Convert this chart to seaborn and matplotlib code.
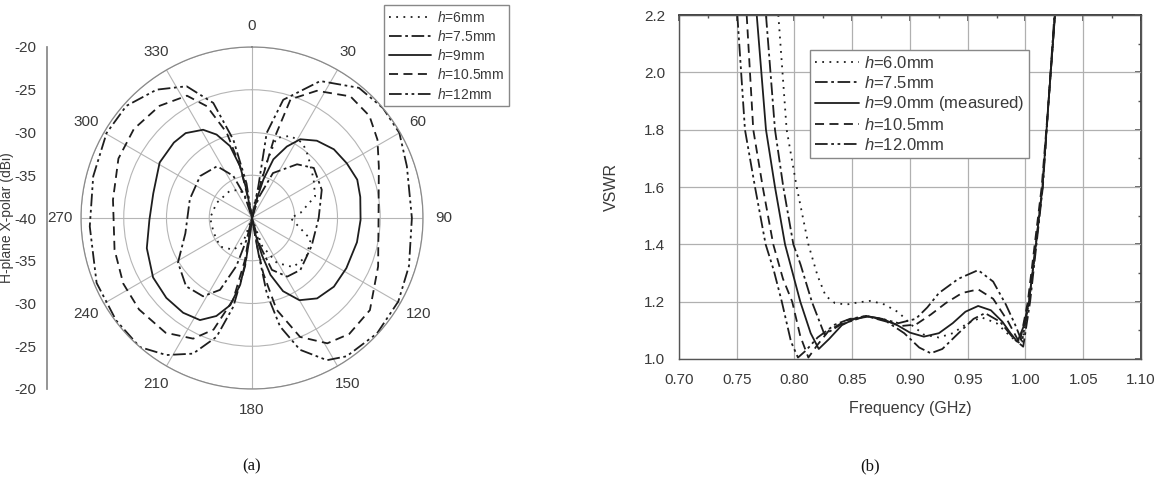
import numpy as np
import matplotlib
matplotlib.use("Agg")
import matplotlib.pyplot as plt
from matplotlib.ticker import MultipleLocator, FixedLocator
import seaborn as sns

sns.set_theme(style="white")
plt.rcParams['font.family'] = ['Liberation Sans', 'DejaVu Sans']
plt.rcParams['mathtext.fontset'] = 'custom'
plt.rcParams['mathtext.it'] = 'Liberation Sans:italic'
plt.rcParams['mathtext.rm'] = 'Liberation Sans'

# ---- (a) H-plane X-polar pattern, angle (deg, clockwise from top) / level (dBi)
ang_6 = [0, 10, 15, 17, 25, 34, 42, 58, 71, 84, 90, 100, 110, 125, 140, 151, 160, 168,
         192, 200, 210, 228, 249, 270, 293, 320, 337, 350, 360]
db_6 = [-40, -38, -33, -30.2, -29.4, -29.4, -30.2, -31.5, -32.2, -34.3, -35.5, -34.5, -32.7,
        -32.2, -32.5, -34, -36.5, -40, -40, -37, -35.7, -35, -35.2, -35.1, -35.5, -35.9,
        -36.4, -38.5, -40]

ang_75 = [0, 12, 18, 25, 40, 51, 68, 90, 115, 137, 149, 159, 164, 170,
          190, 194, 198, 204, 212, 224, 239, 257, 287, 309, 326, 336, 342, 350, 360]
db_75 = [-40, -40, -37.5, -34.2, -31.8, -30.7, -31.2, -32.2, -32.3, -31.7, -32.0, -33.5,
         -36.6, -40, -40, -37.4, -34.1, -30.8, -29.2, -28.9, -29.9, -32.0, -32.4, -32.2,
         -32.7, -34.6, -37.3, -40, -40]

ang_9 = [0, 8, 14, 16.5, 20, 26, 31.5, 40, 50, 60, 70, 79, 91, 103, 118, 130, 141, 150,
         157, 162, 165, 168, 172, 180, 186, 188, 190, 194, 200, 207, 216, 227, 239, 254,
         269, 284, 301, 314, 322, 331, 337, 343, 347, 349, 352, 360]
db_9 = [-40, -40, -37.8, -35.3, -32.7, -30.7, -29.2, -28.2, -27.5, -27.2, -26.9, -27.1,
        -27.3, -27.4, -27.5, -27.5, -27.9, -28.9, -30.7, -33.0, -35.5, -38.0, -40, -40,
        -38.4, -35.3, -32.1, -29.5, -27.8, -26.6, -26.3, -26.3, -26.5, -27.2, -28.0,
        -28.1, -27.4, -27.3, -27.4, -28.2, -29.4, -31.2, -33.8, -36.6, -40, -40]

ang_105 = [0, 10, 14, 15.5, 18, 27, 39, 49, 58, 68, 90, 111, 128, 140, 149, 158, 165,
           168.5, 170, 175, 180, 185, 189.5, 193, 199, 206, 217, 231, 243, 257, 277.5,
           294, 307, 320.5, 332, 338, 343.5, 347, 349, 353, 360]
db_105 = [-40, -40, -36.2, -30.5, -25.4, -23.3, -21.7, -21.8, -22.7, -24.0, -25.2, -24.2,
          -22.5, -22.3, -22.9, -25.0, -28.9, -33.4, -37.0, -40, -40, -40, -35.0, -30.2,
          -26.2, -24.3, -23.2, -23.0, -23.1, -23.5, -23.6, -22.9, -22.7, -23.0, -23.8,
          -25.9, -29.6, -33.8, -37.8, -40, -40]

ang_12 = [0, 11.3, 9.8, 14.8, 26.5, 39.4, 50, 60, 71.5, 90, 107, 119.7, 132.7, 145.6,
          152.2, 160, 165.5, 168.9, 169.7, 172, 180, 188.2, 191.9, 196.6, 203.5, 212, 221,
          233, 247.3, 267, 284.7, 300.3, 311.7, 323.4, 333.6, 341.4, 346.6, 351, 360]
db_12 = [-40, -36.2, -29.9, -25.7, -22.1, -20.3, -20.0, -20.1, -20.9, -21.3, -20.8, -20.3,
         -20.1, -20.4, -21.2, -23.6, -26.9, -31.0, -35.8, -40, -40, -34.3, -29.4, -25.5,
         -22.7, -21.1, -20.0, -20.1, -20.3, -21.0, -20.8, -20.3, -20.3, -21.3, -22.8,
         -25.8, -30.6, -35.9, -40]

# ---- (b) VSWR vs frequency (GHz)
f_60 = [0.786, 0.7932, 0.8019, 0.812, 0.820, 0.827, 0.835, 0.845, 0.856, 0.866, 0.878,
        0.890, 0.901, 0.912, 0.925, 0.937, 0.950, 0.962, 0.975, 0.988, 0.997, 1.003,
        1.009, 1.0147, 1.020, 1.0255]
v_60 = [2.2, 1.8, 1.6, 1.4, 1.29, 1.22, 1.195, 1.19, 1.198, 1.203, 1.19, 1.163, 1.12,
        1.085, 1.075, 1.09, 1.125, 1.145, 1.125, 1.075, 1.05, 1.2, 1.4, 1.6, 1.9, 2.2]

f_75 = [0.7753, 0.7831, 0.7903, 0.799, 0.8052, 0.815, 0.826, 0.84, 0.862, 0.88, 0.895,
        0.908, 0.918, 0.928, 0.942, 0.955, 0.965, 0.978, 0.990, 0.998, 1.004, 1.0095,
        1.015, 1.020, 1.025]
v_75 = [2.2, 1.8, 1.6, 1.4, 1.33, 1.2, 1.085, 1.12, 1.15, 1.13, 1.09, 1.04, 1.02, 1.035,
        1.09, 1.14, 1.16, 1.13, 1.07, 1.043, 1.2, 1.4, 1.6, 1.9, 2.2]

f_90 = [0.7673, 0.7753, 0.7831, 0.7918, 0.805, 0.814, 0.821, 0.83, 0.841, 0.852, 0.864,
        0.876, 0.889, 0.90, 0.912, 0.925, 0.937, 0.948, 0.959, 0.970, 0.980, 0.987,
        0.993, 0.998, 1.003, 1.009, 1.0147, 1.020, 1.0255]
v_90 = [2.2, 1.8, 1.6, 1.4, 1.2, 1.09, 1.035, 1.07, 1.118, 1.14, 1.148, 1.14, 1.118,
        1.092, 1.078, 1.09, 1.125, 1.165, 1.185, 1.17, 1.13, 1.09, 1.06, 1.11, 1.2, 1.4,
        1.6, 1.9, 2.2]

f_105 = [0.7586, 0.7643, 0.7725, 0.7816, 0.790, 0.798, 0.805, 0.812, 0.82, 0.83, 0.845,
         0.862, 0.878, 0.892, 0.905, 0.918, 0.931, 0.945, 0.959, 0.972, 0.985, 0.995,
         1.002, 1.008, 1.014, 1.020, 1.0255]
v_105 = [2.2, 1.8, 1.6, 1.4, 1.28, 1.2, 1.08, 1.005, 1.05, 1.10, 1.135, 1.15, 1.135,
         1.115, 1.12, 1.155, 1.195, 1.23, 1.243, 1.21, 1.13, 1.055, 1.2, 1.4, 1.6, 1.9, 2.2]

f_120 = [0.7505, 0.7571, 0.7658, 0.775, 0.782, 0.789, 0.797, 0.803, 0.81, 0.82, 0.835,
         0.848, 0.862, 0.876, 0.89, 0.905, 0.915, 0.925, 0.942, 0.959, 0.972, 0.983,
         0.991, 0.997, 1.003, 1.009, 1.0147, 1.020, 1.0255]
v_120 = [2.2, 1.8, 1.6, 1.4, 1.31, 1.2, 1.06, 1.005, 1.03, 1.075, 1.12, 1.14, 1.15, 1.14,
         1.125, 1.14, 1.18, 1.23, 1.28, 1.31, 1.27, 1.19, 1.12, 1.06, 1.2, 1.4, 1.6, 1.9, 2.2]

labels_a = ['$h$=6mm', '$h$=7.5mm', '$h$=9mm', '$h$=10.5mm', '$h$=12mm']
labels_b = ['$h$=6.0mm', '$h$=7.5mm', '$h$=9.0mm (measured)', '$h$=10.5mm', '$h$=12.0mm']

styles = [(0, (1, 3)), (0, (7, 2, 1.5, 2)), '-', (0, (5, 3)), (0, (7, 2, 1.5, 2, 1.5, 2))]
ink = '#1e1e1e'
txt = '#3a3a3a'
W, H = 1168, 497

fig = plt.figure(figsize=(W / 100, H / 100), dpi=100)

# ---------------- (a) polar
pax = fig.add_axes([81 / W, 108 / H, 342 / W, 342 / H], projection='polar')
polar_sets = [(ang_6, db_6), (ang_75, db_75), (ang_9, db_9), (ang_105, db_105), (ang_12, db_12)]
for (a, d), ls, lab in zip(polar_sets, styles, labels_a):
    sns.lineplot(x=np.deg2rad(a), y=d, ax=pax, sort=False, estimator=None,
                 color=ink, linestyle=ls, linewidth=1.3, label=lab, legend=False)
pax.set_theta_zero_location('N')
pax.set_theta_direction(-1)
pax.set_ylim(-40, -20)
pax.set_yticks([-35, -30, -25, -20])
pax.set_yticklabels([])
pax.set_xticks(np.deg2rad(np.arange(0, 360, 30)))
pax.set_xticklabels([str(t) for t in range(0, 360, 30)])
pax.tick_params(axis='x', labelsize=11, colors=txt, pad=2)
pax.grid(True, color='#b5b5b5', linewidth=0.8)
pax.spines['polar'].set_color('#8a8a8a')
pax.spines['polar'].set_linewidth(0.9)
pax.set_xlabel('')
pax.set_ylabel('')

# linear scale shown at the left of the polar plot
lax = fig.add_axes([47 / W, 108 / H, 0.0001, 342 / H])
lax.set_ylim(-20, 20)
lax.yaxis.set_major_locator(FixedLocator(list(range(-20, 21, 5))))
lax.yaxis.set_minor_locator(MultipleLocator(2.5))
lax.set_yticklabels([str(-40 + abs(v)) for v in range(-20, 21, 5)])
lax.tick_params(axis='y', which='major', length=5, width=0.8, colors='#777777',
                labelcolor=txt, labelsize=11, direction='out', pad=3)
lax.tick_params(axis='y', which='minor', length=3, width=0.8, colors='#777777', direction='out')
lax.set_xticks([])
for s in ['top', 'right', 'bottom']:
    lax.spines[s].set_visible(False)
lax.spines['left'].set_color('#888888')
fig.text(7 / W, 1 - 218 / H, 'H-plane X-polar (dBi)', rotation=90, ha='center',
         va='center', fontsize=10, color=txt)

ha_, la_ = pax.get_legend_handles_labels()
fig.legend(ha_, la_, loc='upper left', bbox_to_anchor=(384 / W, 1 - 5 / H),
           frameon=True, fancybox=False, edgecolor='#888888', framealpha=1,
           fontsize=10, handlelength=3.0, labelspacing=0.3, borderpad=0.35,
           handletextpad=0.5, borderaxespad=0, labelcolor=txt)

# ---------------- (b) VSWR
ax = fig.add_axes([679 / W, 138 / H, 462 / W, 344 / H])
vswr_sets = [(f_60, v_60), (f_75, v_75), (f_90, v_90), (f_105, v_105), (f_120, v_120)]
for (f, v), ls, lab in zip(vswr_sets, styles, labels_b):
    sns.lineplot(x=f, y=v, ax=ax, sort=False, estimator=None,
                 color=ink, linestyle=ls, linewidth=1.3, label=lab, legend=False)
ax.set_xlim(0.70, 1.10)
ax.set_ylim(1.0, 2.2)
ax.set_xticks(np.arange(0.70, 1.1001, 0.05))
ax.set_xticklabels([f'{t:.2f}' for t in np.arange(0.70, 1.1001, 0.05)])
ax.set_yticks(np.arange(1.0, 2.2001, 0.2))
ax.set_yticklabels([f'{t:.1f}' for t in np.arange(1.0, 2.2001, 0.2)])
ax.xaxis.set_minor_locator(MultipleLocator(0.025))
ax.yaxis.set_minor_locator(MultipleLocator(0.1))
ax.grid(True, which='major', color='#b0b0b0', linewidth=0.9)
ax.tick_params(which='major', direction='out', length=4, width=0.9, colors='#555555',
               labelcolor=txt, labelsize=11, pad=6)
ax.tick_params(which='minor', direction='out', length=2.5, width=0.8, colors='#555555')
for s in ax.spines.values():
    s.set_color('#555555')
    s.set_linewidth(1.0)
sec_x = ax.secondary_xaxis('top')
sec_x.set_xticks(np.arange(0.70, 1.1001, 0.05))
sec_x.xaxis.set_minor_locator(MultipleLocator(0.025))
sec_x.tick_params(which='both', direction='in', labeltop=False, colors='#555555')
sec_x.tick_params(which='major', length=4)
sec_x.tick_params(which='minor', length=2.5)
sec_y = ax.secondary_yaxis('right')
sec_y.set_yticks(np.arange(1.0, 2.2001, 0.2))
sec_y.yaxis.set_minor_locator(MultipleLocator(0.1))
sec_y.tick_params(which='both', direction='in', labelright=False, colors='#555555')
sec_y.tick_params(which='major', length=4)
sec_y.tick_params(which='minor', length=2.5)
ax.set_xlabel('Frequency (GHz)', fontsize=11.5, color=txt, labelpad=10)
ax.set_ylabel('VSWR', fontsize=11.5, color=txt, labelpad=18)
ax.legend(loc='upper left', bbox_to_anchor=(0.284, 0.898), frameon=True, fancybox=False,
          edgecolor='#888888', framealpha=1, fontsize=12, handlelength=2.6,
          labelspacing=0.22, borderpad=0.3, handletextpad=0.3, borderaxespad=0,
          labelcolor=txt)

fig.text(252 / W, 1 - 466 / H, '(a)', ha='center', va='center', fontsize=12,
         family='Liberation Serif', color='#111111')
fig.text(870 / W, 1 - 466 / H, '(b)', ha='center', va='center', fontsize=12,
         family='Liberation Serif', color='#111111')

fig.savefig('out.png', dpi=100, facecolor='white')
